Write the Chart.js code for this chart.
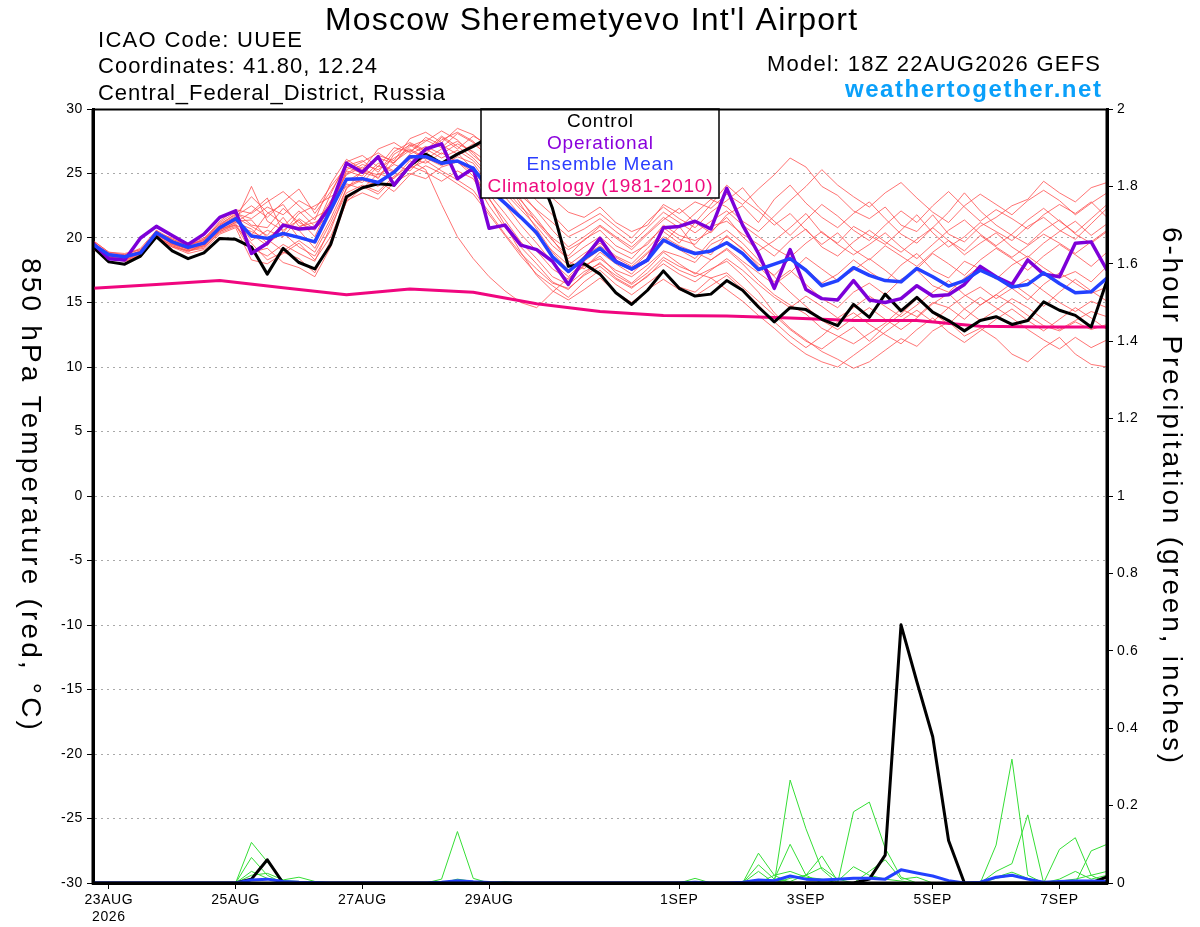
<!DOCTYPE html>
<html>
<head>
<meta charset="utf-8">
<title>Moscow Sheremetyevo Int'l Airport - GEFS plume</title>
<script src="https://cdn.jsdelivr.net/npm/chart.js@4.4.1/dist/chart.umd.min.js"></script>
<style>
  html, body { margin: 0; padding: 0; background: #fff; }
  #wrap { position: relative; width: 1200px; height: 927px; }
</style>
</head>
<body>
<div id="wrap"><canvas id="plumeChart" width="1200" height="927"></canvas></div>
<script>
// time axis: one value every 6 hours from 18Z 22AUG2026 (hour 0) to 18Z 7SEP (hour 384)
const stepHours = 6;
const tickHours = [6, 54, 102, 150, 222, 270, 318, 366];
const tickLabels = [['23AUG', '2026'], '25AUG', '27AUG', '29AUG', '1SEP', '3SEP', '5SEP', '7SEP'];

// 850 hPa temperature (C)
const controlTemp = [19.3, 18.15, 17.97, 18.6, 20.1, 19.0, 18.4, 18.85, 19.97, 19.9,
  19.3, 17.2, 19.2, 18.1, 17.6, 19.5,
  23.2, 23.9, 24.2, 24.1, 25.6, 26.5, 25.8, 26.5, 27.1,
  27.8, 28.0, 27.0, 25.5, 22.3, 17.8, 18.0, 17.2,
  15.75, 14.85, 15.95, 17.45, 16.1, 15.5, 15.65, 16.7,
  15.95, 14.65, 13.5, 14.6, 14.45, 13.7, 13.2, 14.85,
  13.85, 15.65, 14.35, 15.4, 14.25, 13.6, 12.8, 13.6,
  13.9, 13.3, 13.6, 15.05, 14.4, 14.0, 13.1, 16.7];

const operationalTemp = [19.6, 18.4, 18.3, 20.0, 20.9, 20.2, 19.5, 20.3, 21.6, 22.1,
  18.8, 19.6, 21.0, 20.7, 20.8, 22.5,
  25.8, 25.1, 26.3, 24.1, 25.6, 26.9, 27.3, 24.6, 25.4,
  20.75, 21.0, 19.45, 19.1, 18.2, 16.4, 18.4, 19.97,
  18.2, 17.6, 18.3, 20.8, 20.9, 21.3, 20.7, 23.85,
  21.0, 18.8, 16.1, 19.1, 16.0, 15.3, 15.2, 16.7,
  15.2, 15.0, 15.3, 16.3, 15.5, 15.6, 16.4, 17.8,
  17.0, 16.4, 18.3, 17.2, 17.0, 19.6, 19.7, 17.5];

const meanTemp = [19.5, 18.7, 18.55, 18.85, 20.4, 19.7, 19.27, 19.6, 20.8, 21.5,
  20.15, 19.97, 20.35, 20.05, 19.7, 22.2,
  24.55, 24.6, 24.3, 25.1, 26.3, 26.3, 25.8, 25.97, 25.4,
  23.8, 22.7, 21.6, 20.4, 18.55, 17.4, 18.4, 19.2,
  18.15, 17.6, 18.3, 19.84, 19.2, 18.8, 19.0, 19.63,
  18.8, 17.56, 17.97, 18.4, 17.5, 16.3, 16.7, 17.7,
  17.1, 16.7, 16.6, 17.64, 17.0, 16.27, 16.7, 17.5,
  16.95, 16.2, 16.4, 17.3, 16.47, 15.75, 15.83, 16.9];

// climatology is daily (18Z)
const climHours = [0, 24, 48, 72, 96, 120, 144, 168, 192, 216, 240, 264, 288, 312, 336, 360, 384];
const climTemp = [16.1, 16.4, 16.7, 16.15, 15.6, 16.05, 15.8, 14.9, 14.3, 14.0, 13.95, 13.8, 13.6, 13.6, 13.15, 13.1, 13.1];

// ensemble members (red)
const member01 = [19.8, 18.9, 18.7, 19.2, 20.6, 19.9, 19.5, 19.9, 21.0, 21.9,
  21.5, 22.4, 21.8, 22.9, 22.2, 24.0,
  25.5, 25.0, 26.2, 25.8, 27.1, 27.6, 27.0, 28.1, 27.4,
  26.8, 26.0, 24.8, 24.2, 23.1, 22.0, 21.6, 22.4,
  21.2, 20.5, 21.0, 22.6, 21.9, 22.8, 22.3, 23.4,
  22.6, 23.8, 24.9, 26.2, 25.5, 24.0, 23.3, 22.1,
  21.5, 22.4, 21.0, 20.5, 21.8, 20.3, 19.7, 20.9,
  21.6, 22.5, 23.0, 24.4, 23.5, 22.8, 23.9, 24.3];
const member02 = [19.2, 18.4, 18.3, 18.6, 20.1, 19.4, 19.0, 19.2, 20.5, 21.1,
  19.2, 18.6, 19.5, 18.8, 18.2, 20.9,
  23.5, 24.1, 23.6, 24.8, 25.6, 25.1, 24.4, 25.2, 24.6,
  22.5, 20.8, 19.3, 18.0, 16.6, 16.0, 17.2, 18.1,
  16.9, 16.2, 17.0, 18.3, 17.5, 17.0, 17.6, 18.2,
  17.1, 15.8, 14.2, 13.0, 12.1, 11.2, 10.6, 9.9,
  10.4, 11.3, 12.2, 11.6, 12.8, 13.5, 12.4, 13.0,
  12.2, 11.0, 10.4, 11.5, 12.3, 11.0, 10.2, 10.0];
const member03 = [19.6, 18.8, 18.4, 18.9, 20.3, 19.6, 19.1, 19.7, 20.9, 21.3,
  24.0, 21.3, 20.6, 21.4, 20.1, 22.8,
  24.9, 25.5, 24.6, 26.5, 27.2, 26.5, 27.8, 26.9, 27.9,
  27.2, 25.5, 23.0, 21.2, 19.8, 18.6, 19.9, 20.6,
  19.4, 18.8, 19.5, 21.0, 20.2, 19.8, 20.5, 21.6,
  20.1, 19.0, 19.8, 20.8, 21.9, 20.4, 19.6, 20.9,
  20.2, 19.5, 20.6, 21.8, 20.4, 19.3, 20.1, 21.2,
  20.5, 19.8, 20.9, 21.6, 20.6, 19.9, 21.1, 22.3];
const member04 = [19.4, 18.6, 18.6, 18.7, 20.5, 19.8, 19.3, 19.5, 20.7, 21.4,
  20.3, 19.4, 21.0, 20.6, 19.2, 21.5,
  24.2, 23.8, 25.0, 24.6, 26.0, 25.3, 22.6, 20.1, 18.4,
  17.0, 15.9, 15.0, 14.6, 15.8, 16.9, 17.8, 18.6,
  17.3, 16.5, 17.6, 18.9, 18.0, 17.2, 18.3, 19.1,
  18.0, 16.7, 15.6, 14.8, 14.1, 13.0, 12.4, 11.8,
  12.6, 13.4, 14.5, 13.9, 15.0, 14.6, 13.7, 14.8,
  15.6, 14.9, 14.0, 13.2, 12.8, 13.5, 12.9, 13.3];
const member05 = [19.7, 18.5, 18.5, 19.0, 20.2, 19.9, 19.4, 19.8, 21.2, 22.0,
  21.0, 20.8, 22.3, 21.2, 20.6, 23.4,
  25.9, 26.4, 25.5, 27.0, 26.7, 27.5, 28.3, 27.6, 26.4,
  25.4, 24.1, 22.9, 21.5, 19.9, 18.2, 17.6, 18.9,
  18.0, 17.2, 18.5, 19.6, 20.9, 19.3, 18.7, 20.2,
  19.1, 18.0, 17.1, 18.4, 17.6, 16.5, 17.2, 18.3,
  17.4, 16.6, 17.9, 18.8, 17.5, 16.9, 18.2, 17.6,
  16.8, 17.9, 18.6, 17.7, 16.9, 17.4, 16.6, 17.8];
const member06 = [19.3, 18.7, 18.6, 18.8, 20.6, 19.5, 19.2, 19.4, 20.6, 21.2,
  22.0, 23.1, 20.4, 21.9, 22.5, 23.2,
  24.0, 24.6, 25.8, 25.2, 26.1, 26.9, 26.2, 26.8, 26.0,
  24.6, 23.2, 21.7, 20.2, 19.0, 17.9, 18.8, 19.6,
  18.6, 18.0, 19.2, 20.5, 19.6, 21.2, 20.4, 21.8,
  22.5, 21.2, 23.0, 24.1, 22.7, 21.6, 20.8, 21.9,
  22.8, 21.5, 20.3, 19.6, 20.8, 22.0, 23.5, 22.1,
  21.0, 20.2, 19.5, 20.6, 21.4, 20.3, 19.6, 20.5];
const member07 = [19.5, 18.6, 18.2, 18.5, 20.0, 19.3, 19.0, 19.3, 20.4, 20.9,
  19.6, 18.3, 18.9, 18.4, 17.3, 19.8,
  22.8, 23.9, 24.4, 23.6, 24.9, 25.6, 25.0, 24.2, 23.4,
  21.8, 20.2, 18.6, 17.2, 16.3, 15.4, 16.6, 17.5,
  16.4, 15.6, 16.5, 17.4, 16.2, 15.8, 16.9, 17.3,
  16.2, 15.1, 14.0, 12.9, 12.0, 11.4, 12.3, 13.1,
  12.0, 13.2, 14.1, 15.3, 14.2, 13.3, 14.5, 15.4,
  14.6, 13.8, 12.9, 12.1, 11.4, 12.3, 11.5, 12.1];
const member08 = [19.8, 18.9, 18.8, 19.1, 20.4, 20.0, 19.6, 20.0, 21.1, 21.8,
  23.2, 22.0, 21.1, 20.8, 21.6, 22.3,
  25.2, 24.8, 26.4, 26.0, 27.7, 28.2, 27.4, 28.5, 28.0,
  27.0, 25.8, 24.3, 22.9, 21.8, 20.5, 21.2, 21.9,
  20.9, 20.0, 21.3, 22.4, 21.5, 20.8, 22.0, 22.9,
  23.9, 22.4, 21.3, 20.2, 21.4, 22.6, 21.7, 20.6,
  19.8, 21.0, 22.1, 21.2, 22.5, 23.6, 22.4, 21.3,
  22.2, 21.5, 20.7, 21.8, 22.6, 21.9, 22.8, 21.6];
const member09 = [19.1, 18.5, 18.3, 18.7, 20.2, 19.4, 18.9, 19.6, 20.7, 21.0,
  20.5, 19.9, 19.0, 19.8, 18.9, 21.2,
  23.8, 25.2, 24.9, 25.7, 25.2, 26.4, 25.7, 26.6, 25.3,
  23.4, 21.9, 20.3, 19.0, 17.6, 16.8, 17.9, 18.4,
  17.5, 17.0, 17.9, 19.0, 18.6, 18.1, 19.5, 20.1,
  19.2, 17.8, 16.6, 17.5, 16.4, 15.3, 14.6, 15.8,
  16.5, 15.6, 16.8, 17.5, 16.3, 15.8, 16.9, 17.8,
  16.9, 16.1, 15.2, 16.4, 17.3, 16.5, 15.7, 16.2];
const member10 = [19.6, 18.7, 18.4, 19.0, 20.3, 19.8, 19.3, 19.7, 20.9, 21.6,
  20.9, 20.2, 21.6, 20.0, 19.6, 22.6,
  25.0, 25.7, 25.3, 26.2, 26.9, 26.2, 25.6, 26.3, 25.8,
  24.1, 22.6, 21.0, 19.6, 18.1, 17.0, 18.2, 19.1,
  18.3, 17.6, 18.8, 19.9, 19.1, 18.4, 19.8, 20.6,
  19.6, 18.3, 17.0, 15.8, 14.7, 13.6, 12.9, 13.8,
  14.6, 13.7, 12.9, 13.8, 14.9, 15.7, 14.5, 13.6,
  14.4, 15.3, 14.6, 13.7, 12.9, 13.6, 14.3, 13.9];
const member11 = [19.4, 18.8, 18.7, 19.1, 20.5, 19.7, 19.4, 19.9, 21.3, 22.2,
  21.9, 22.8, 23.6, 22.5, 21.4, 24.2,
  26.1, 25.3, 26.9, 27.4, 26.6, 27.8, 27.2, 26.5, 27.3,
  26.4, 25.0, 23.6, 22.1, 20.6, 19.3, 20.1, 21.0,
  20.1, 19.3, 20.4, 21.6, 20.8, 21.9, 23.0, 22.4,
  21.3, 20.5, 21.7, 22.9, 24.0, 25.3, 24.1, 23.2,
  22.4, 23.5, 24.3, 23.1, 22.0, 21.2, 22.5, 23.4,
  22.6, 21.8, 22.9, 23.7, 22.9, 21.8, 22.7, 23.5];
const member12 = [19.5, 18.3, 18.6, 18.8, 20.3, 19.6, 19.1, 19.4, 20.8, 21.5,
  19.8, 20.6, 20.1, 21.5, 20.7, 21.9,
  24.6, 24.3, 25.6, 25.1, 26.5, 27.1, 26.5, 27.3, 26.7,
  25.8, 24.5, 22.6, 20.7, 18.9, 17.5, 18.6, 19.4,
  18.5, 17.8, 18.9, 20.1, 19.4, 18.9, 18.3, 19.2,
  18.2, 17.3, 16.4, 17.3, 18.5, 17.6, 16.7, 17.5,
  18.4, 17.5, 16.5, 17.6, 18.8, 18.0, 17.1, 18.3,
  19.2, 18.4, 17.5, 18.6, 19.5, 18.7, 17.8, 18.9];
const member13 = [19.3, 18.6, 18.5, 18.9, 20.0, 19.5, 19.2, 19.5, 20.6, 21.2,
  20.7, 19.6, 20.4, 19.3, 18.6, 20.6,
  23.9, 24.5, 24.0, 25.3, 26.2, 25.8, 26.6, 25.9, 25.1,
  23.0, 21.4, 19.7, 18.4, 17.0, 16.4, 17.4, 18.0,
  17.1, 16.4, 17.3, 18.5, 17.8, 17.3, 16.9, 16.0,
  15.1, 14.0, 13.0, 11.9, 11.0, 10.4, 10.0, 10.9,
  11.8, 12.7, 13.6, 14.4, 13.5, 14.6, 15.5, 16.2,
  15.3, 16.1, 16.8, 15.9, 15.0, 14.3, 15.1, 14.6];
const member14 = [19.7, 18.8, 18.5, 18.9, 20.4, 19.7, 19.5, 19.8, 21.0, 21.7,
  22.5, 21.6, 22.8, 23.8, 21.9, 23.6,
  25.6, 26.0, 25.1, 26.7, 27.4, 26.8, 27.9, 27.1, 26.2,
  24.9, 23.5, 22.2, 20.9, 19.4, 18.4, 19.3, 20.1,
  19.0, 18.4, 19.7, 20.8, 19.9, 19.5, 20.9, 21.3,
  20.3, 19.5, 18.6, 19.8, 20.7, 19.3, 18.6, 19.7,
  20.6, 19.7, 18.9, 19.9, 20.8, 19.8, 19.0, 20.2,
  19.3, 18.5, 19.4, 20.3, 19.6, 18.8, 19.7, 20.6];
const member15 = [19.4, 18.5, 18.4, 18.8, 20.2, 19.6, 19.2, 19.6, 20.7, 21.3,
  21.4, 20.0, 20.9, 22.1, 20.9, 22.9,
  24.4, 25.1, 24.7, 25.9, 26.8, 26.1, 26.9, 27.5, 26.6,
  25.2, 23.8, 22.4, 21.3, 20.0, 19.1, 19.8, 20.9,
  20.0, 19.1, 20.3, 21.4, 22.3, 21.2, 22.6, 24.1,
  23.0, 22.1, 21.0, 21.9, 20.6, 19.5, 20.4, 19.1,
  18.3, 19.4, 18.6, 17.8, 18.9, 19.8, 18.7, 19.6,
  20.4, 19.3, 18.5, 19.6, 20.5, 21.3, 20.2, 21.1];
const member16 = [19.6, 18.6, 18.3, 18.8, 20.3, 19.5, 19.0, 19.4, 20.5, 21.0,
  18.9, 19.2, 18.1, 17.7, 17.0, 19.3,
  22.9, 23.5, 23.0, 24.3, 25.0, 24.6, 25.5, 25.9, 24.8,
  23.1, 21.0, 18.9, 17.1, 15.9, 15.2, 16.0, 16.9,
  15.8, 15.0, 16.0, 16.8, 16.0, 15.5, 16.3, 17.1,
  16.0, 14.8, 13.5, 12.4, 11.5, 12.4, 13.5, 14.2,
  13.3, 12.5, 11.8, 12.9, 13.8, 12.7, 11.9, 12.8,
  13.7, 14.5, 13.6, 12.8, 13.7, 14.6, 13.8, 12.9];
const member17 = [19.5, 18.7, 18.6, 19.0, 20.5, 19.8, 19.3, 19.6, 20.9, 21.6,
  20.2, 21.9, 22.6, 20.9, 21.2, 22.0,
  25.3, 25.9, 26.6, 25.8, 27.3, 26.7, 27.6, 28.2, 27.5,
  26.1, 24.6, 23.3, 22.2, 21.2, 20.1, 20.7, 21.5,
  20.5, 19.6, 20.8, 22.0, 21.2, 20.4, 21.3, 22.1,
  21.0, 20.1, 19.2, 18.5, 19.6, 20.5, 19.5, 18.7,
  19.5, 20.4, 19.3, 18.4, 19.5, 20.6, 21.4, 20.3,
  19.4, 20.3, 21.4, 22.3, 21.3, 20.4, 21.5, 22.6];
const member18 = [19.3, 18.4, 18.2, 18.6, 20.0, 19.3, 18.8, 19.1, 20.3, 20.8,
  18.3, 18.0, 18.8, 19.6, 18.3, 20.1,
  23.0, 24.0, 23.4, 24.7, 25.4, 26.0, 25.2, 24.5, 23.7,
  22.0, 20.3, 18.8, 17.6, 16.5, 16.1, 17.1, 17.8,
  16.8, 16.1, 17.1, 18.0, 17.2, 16.6, 17.5, 18.4,
  17.5, 16.4, 15.4, 14.6, 15.5, 14.7, 13.8, 14.6,
  15.5, 14.7, 13.9, 14.8, 15.8, 16.7, 15.6, 14.8,
  15.6, 16.5, 15.6, 14.7, 15.8, 16.8, 15.9, 15.1];
const ensembleMembers = [member01, member02, member03, member04, member05, member06,
  member07, member08, member09, member10, member11, member12, member13, member14,
  member15, member16, member17, member18];

// 6-hour precipitation (inches)
const controlPrecip = [0, 0, 0, 0, 0, 0, 0, 0, 0, 0,
  0.01, 0.06, 0, 0, 0, 0,
  0, 0, 0, 0, 0, 0, 0, 0, 0,
  0, 0, 0, 0, 0, 0, 0, 0,
  0, 0, 0, 0, 0, 0, 0, 0,
  0, 0, 0, 0, 0, 0, 0, 0,
  0.01, 0.072, 0.667, 0.52, 0.378, 0.11, 0, 0,
  0, 0, 0, 0, 0, 0, 0, 0.016];
const meanPrecip = [0, 0, 0, 0, 0, 0, 0, 0, 0, 0,
  0.008, 0.01, 0.004, 0.002, 0.001, 0,
  0, 0, 0, 0, 0, 0, 0.002, 0.006, 0.003,
  0.001, 0, 0, 0, 0, 0, 0, 0,
  0, 0, 0, 0, 0, 0.002, 0, 0,
  0.002, 0.008, 0.006, 0.018, 0.01, 0.008, 0.01, 0.012,
  0.012, 0.01, 0.034, 0.026, 0.018, 0.006, 0, 0.002,
  0.015, 0.02, 0.01, 0.002, 0.004, 0.005, 0.005, 0.004];
const precipMember1 = [0, 0, 0, 0, 0, 0, 0, 0, 0, 0,
  0.105, 0.055, 0.005, 0, 0, 0,
  0, 0, 0, 0, 0, 0, 0, 0, 0,
  0, 0, 0, 0, 0, 0, 0, 0,
  0, 0, 0, 0, 0, 0, 0, 0,
  0, 0, 0, 0.266, 0.14, 0.035, 0, 0,
  0, 0, 0, 0, 0, 0, 0, 0,
  0, 0, 0, 0, 0.087, 0.117, 0.02, 0];
const precipMember2 = [0, 0, 0, 0, 0, 0, 0, 0, 0, 0,
  0.066, 0.02, 0, 0, 0, 0,
  0, 0, 0, 0, 0, 0, 0.01, 0.133, 0.012,
  0, 0, 0, 0, 0, 0, 0, 0,
  0, 0, 0, 0, 0, 0, 0, 0,
  0, 0.077, 0.02, 0, 0, 0, 0, 0.184,
  0.209, 0.09, 0.015, 0, 0, 0, 0, 0,
  0, 0, 0, 0, 0, 0, 0, 0];
const precipMember3 = [0, 0, 0, 0, 0, 0, 0, 0, 0, 0,
  0.02, 0.025, 0.008, 0.015, 0.004, 0,
  0, 0, 0, 0, 0, 0, 0, 0, 0,
  0, 0, 0, 0, 0, 0, 0, 0,
  0, 0, 0, 0, 0, 0.012, 0, 0,
  0, 0.047, 0.01, 0.1, 0.02, 0, 0, 0,
  0, 0, 0, 0, 0, 0, 0, 0,
  0.098, 0.32, 0.02, 0, 0, 0, 0, 0];
const precipMember4 = [0, 0, 0, 0, 0, 0, 0, 0, 0, 0,
  0, 0, 0, 0, 0, 0,
  0, 0, 0, 0, 0, 0, 0, 0, 0,
  0, 0, 0, 0, 0, 0, 0, 0,
  0, 0, 0, 0, 0, 0, 0, 0,
  0, 0.03, 0, 0.012, 0.02, 0.07, 0.005, 0.042,
  0.02, 0.01, 0.005, 0, 0, 0, 0, 0,
  0.03, 0.05, 0.176, 0, 0, 0, 0.083, 0.1];
const precipMember5 = [0, 0, 0, 0, 0, 0, 0, 0, 0, 0,
  0.03, 0.012, 0.006, 0.004, 0, 0,
  0, 0, 0, 0, 0, 0, 0, 0, 0,
  0, 0.004, 0, 0, 0, 0, 0, 0,
  0, 0, 0, 0, 0, 0, 0, 0,
  0, 0, 0.02, 0.03, 0.015, 0.01, 0, 0,
  0.03, 0.06, 0.01, 0.015, 0, 0, 0, 0.004,
  0.015, 0.028, 0.012, 0, 0.005, 0.01, 0.02, 0.03];
const precipMember6 = [0, 0, 0, 0, 0, 0, 0, 0, 0, 0,
  0, 0, 0, 0, 0, 0,
  0, 0, 0, 0, 0, 0, 0, 0.01, 0.004,
  0.002, 0, 0, 0, 0, 0, 0, 0,
  0, 0, 0, 0, 0, 0, 0, 0,
  0.002, 0, 0.008, 0.004, 0.02, 0.04, 0.01, 0,
  0, 0, 0, 0, 0, 0, 0, 0,
  0.012, 0.02, 0.01, 0, 0.01, 0.03, 0.01, 0.02];
const precipMembers = [precipMember1, precipMember2, precipMember3, precipMember4, precipMember5, precipMember6];

const legendLabels = ['Control', 'Operational', 'Ensemble Mean', 'Climatology (1981-2010)'];
const legendColors = ['#000000', '#8a00dc', '#2a3dff', '#ee0a7e'];

const FONT = '"Liberation Sans", Arial, Helvetica, sans-serif';

function toPoints(values) {
    return values.map((v, i) => ({ x: i * stepHours, y: v }));
}

// draw text stretched to a given width with letter spacing (the original font is set wide)
function drawFitted(ctx, text, x, y, font, color, width, align) {
    ctx.save();
    ctx.font = font;
    ctx.fillStyle = color;
    ctx.textAlign = 'left';
    if ('letterSpacing' in ctx) ctx.letterSpacing = '0px';
    const natural = ctx.measureText(text).width;
    if ('letterSpacing' in ctx && text.length > 1) {
        ctx.letterSpacing = ((width - natural) / (text.length - 1)).toFixed(2) + 'px';
    }
    let start = x;
    if (align === 'center') start = x - width / 2;
    if (align === 'right') start = x - width;
    ctx.fillText(text, start, y);
    ctx.restore();
}

const plumeDecor = {
    id: 'plumeDecor',
    beforeDraw(chart) {
        if ('letterSpacing' in chart.ctx) chart.ctx.letterSpacing = '0.6px';
    },
    afterDatasetsDraw(chart) {
        const ctx = chart.ctx;
        const a = chart.chartArea;
        ctx.save();
        if ('letterSpacing' in ctx) ctx.letterSpacing = '0px';

        // legend box
        ctx.fillStyle = '#fff';
        ctx.fillRect(481, a.top, 238, 89);
        ctx.strokeStyle = '#000';
        ctx.lineWidth = 1.5;
        ctx.strokeRect(481, a.top, 238, 89);
        const widths = [66, 106, 147, 225];
        const baselines = [127, 148.5, 170, 192];
        legendLabels.forEach((label, i) => {
            drawFitted(ctx, label, 600, baselines[i], '19px ' + FONT, legendColors[i], widths[i], 'center');
        });

        // frame
        ctx.strokeStyle = '#000';
        ctx.lineWidth = 2;
        ctx.beginPath();
        ctx.moveTo(a.left, a.top + 0.5);
        ctx.lineTo(a.right, a.top + 0.5);
        ctx.stroke();
        ctx.lineWidth = 3;
        ctx.beginPath();
        ctx.moveTo(a.left, a.top);
        ctx.lineTo(a.left, a.bottom + 1.5);
        ctx.moveTo(a.left - 1.5, a.bottom);
        ctx.lineTo(a.right + 1.5, a.bottom);
        ctx.moveTo(a.right, a.bottom + 1.5);
        ctx.lineTo(a.right, a.top);
        ctx.stroke();
        ctx.restore();
    },
    afterDraw(chart) {
        const ctx = chart.ctx;
        ctx.save();
        ctx.textBaseline = 'alphabetic';
        drawFitted(ctx, "Moscow Sheremetyevo Int'l Airport", 591, 30, '32px ' + FONT, '#000', 532, 'center');
        drawFitted(ctx, 'ICAO Code: UUEE', 98, 47, '22px ' + FONT, '#000', 204, 'left');
        drawFitted(ctx, 'Coordinates: 41.80, 12.24', 98, 73, '22px ' + FONT, '#000', 279, 'left');
        drawFitted(ctx, 'Central_Federal_District, Russia', 98, 100, '22px ' + FONT, '#000', 347, 'left');
        drawFitted(ctx, 'Model: 18Z 22AUG2026 GEFS', 1100, 71, '22px ' + FONT, '#000', 333, 'right');
        drawFitted(ctx, 'weathertogether.net', 1101, 97, 'bold 24px ' + FONT, '#0aa0fa', 256, 'right');

        // rotated axis titles (both read top to bottom)
        ctx.textBaseline = 'middle';
        ctx.save();
        ctx.translate(30, 494);
        ctx.rotate(Math.PI / 2);
        drawFitted(ctx, '850 hPa Temperature (red, °C)', 0, 0, '28px ' + FONT, '#000', 472, 'center');
        ctx.restore();
        ctx.save();
        ctx.translate(1171, 495);
        ctx.rotate(Math.PI / 2);
        drawFitted(ctx, '6-hour Precipitation (green, inches)', 0, 0, '28px ' + FONT, '#000', 536, 'center');
        ctx.restore();
        ctx.restore();
    }
};

const datasets = [];
datasets.push({ label: 'Ensemble Mean', data: toPoints(meanTemp), yAxisID: 'y',
    borderColor: '#2341ff', borderWidth: 3.5, order: 1 });
datasets.push({ label: 'Operational', data: toPoints(operationalTemp), yAxisID: 'y',
    borderColor: '#7d00d8', borderWidth: 3.5, order: 2 });
datasets.push({ label: 'Control', data: toPoints(controlTemp), yAxisID: 'y',
    borderColor: '#000000', borderWidth: 3, order: 3 });
datasets.push({ label: 'Climatology (1981-2010)', yAxisID: 'y',
    data: climHours.map((h, i) => ({ x: h, y: climTemp[i] })),
    borderColor: '#f0067f', borderWidth: 3, order: 4 });
datasets.push({ label: 'Mean precip', data: toPoints(meanPrecip), yAxisID: 'y2',
    borderColor: '#2341ff', borderWidth: 3, order: 5 });
datasets.push({ label: 'Control precip', data: toPoints(controlPrecip), yAxisID: 'y2',
    borderColor: '#000000', borderWidth: 3, order: 6 });
precipMembers.forEach((m, i) => {
    datasets.push({ label: 'Precip member ' + (i + 1), data: toPoints(m), yAxisID: 'y2',
        borderColor: '#35de35', borderWidth: 1, order: 7 });
});
ensembleMembers.forEach((m, i) => {
    datasets.push({ label: 'Member ' + (i + 1), data: toPoints(m), yAxisID: 'y',
        borderColor: 'rgba(255, 80, 80, 0.8)', borderWidth: 1, order: 8 });
});

const tickFont = { family: FONT, size: 14 };

new Chart(document.getElementById('plumeChart').getContext('2d'), {
    type: 'line',
    data: { datasets },
    options: {
        responsive: false,
        animation: false,
        events: [],
        layout: { padding: { top: 109, left: 0, right: 0, bottom: 0 } },
        elements: {
            point: { radius: 0 },
            line: { tension: 0, fill: false, borderJoinStyle: 'round' }
        },
        plugins: {
            legend: { display: false },
            title: { display: false },
            tooltip: { enabled: false }
        },
        scales: {
            x: {
                type: 'linear',
                min: 0,
                max: 384,
                afterBuildTicks: (scale) => { scale.ticks = tickHours.map(v => ({ value: v })); },
                afterFit: (scale) => { scale.height = 44; },
                ticks: {
                    color: '#000', font: tickFont, maxRotation: 0, autoSkip: false, padding: 3,
                    callback: (value) => tickLabels[tickHours.indexOf(value)]
                },
                grid: { drawOnChartArea: false, drawTicks: true, tickLength: 6, color: '#000' },
                border: { color: '#000', width: 3 }
            },
            y: {
                position: 'left',
                min: -30,
                max: 30,
                afterFit: (scale) => { scale.width = 93; },
                ticks: { stepSize: 5, color: '#000', font: tickFont, padding: 4 },
                grid: { color: '#a9a9a9', lineWidth: 1, tickLength: 6, tickColor: '#000', tickWidth: 1 },
                border: { color: '#000', width: 3, dash: [2, 4] }
            },
            y2: {
                position: 'right',
                min: 0,
                max: 2,
                afterFit: (scale) => { scale.width = 93; },
                ticks: {
                    stepSize: 0.2, color: '#000', font: tickFont, padding: 4,
                    callback: (value) => String(+value.toFixed(1))
                },
                grid: { drawOnChartArea: false, tickLength: 6, color: '#000' },
                border: { color: '#000', width: 3 }
            }
        }
    },
    plugins: [plumeDecor]
});
</script>
</body>
</html>
